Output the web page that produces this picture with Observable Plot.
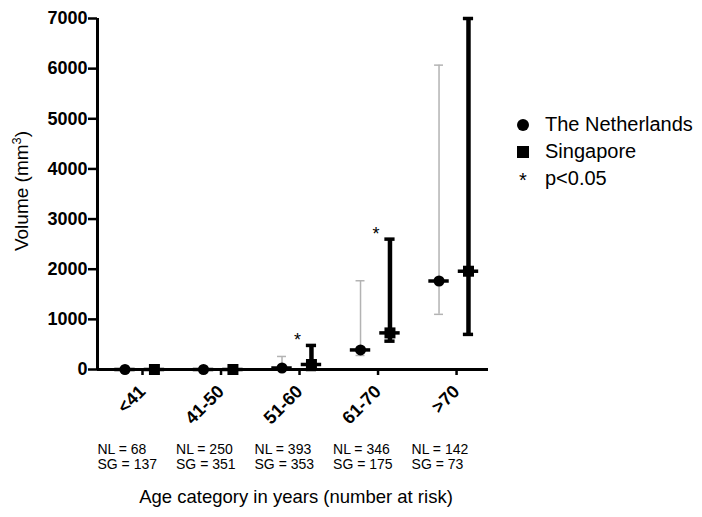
<!DOCTYPE html>
<html><head><meta charset="utf-8">
<script src="https://cdn.jsdelivr.net/npm/d3@7"></script>
<script src="https://cdn.jsdelivr.net/npm/@observablehq/plot@0.6"></script>
<style>
body{margin:0;background:#fff;}
#wrap{position:relative;width:702px;height:517px;font-family:Arial,"Liberation Sans",sans-serif;}
#legend{position:absolute;left:513px;top:111px;font-size:20px;color:#000;}
.item{display:flex;align-items:center;height:27px;white-space:nowrap;}
.item svg{width:20px;height:20px;margin-right:12px;flex:none;overflow:visible;}
#ytitle{position:absolute;left:22px;top:191px;transform:translate(-50%,-50%) rotate(-90deg);font-size:19px;white-space:nowrap;color:#000;}
#ytitle sup{font-size:0.68em;line-height:0;}
</style></head><body><div id="wrap"><div id="ytitle"></div><div id="legend"></div></div>
<script>
const categories = ["<41", "41-50", "51-60", "61-70", ">70"];
const nlMedian = [0, 0, 30, 390, 1765];
const nlLow = [0, 0, 0, 280, 1100];
const nlHigh = [0, 0, 260, 1770, 6070];
const sgMedian = [0, 0, 100, 730, 1960];
const sgLow = [0, 0, 0, 565, 700];
const sgHigh = [0, 0, 480, 2600, 7000];
const nlN = [68, 250, 393, 346, 142];
const sgN = [137, 351, 353, 175, 73];
const significant = [false, false, true, true, false];
const yTicks = [0, 1000, 2000, 3000, 4000, 5000, 6000, 7000];
const legendLabels = ["The Netherlands", "Singapore", "p<0.05"];
const xTitle = "Age category in years (number at risk)";
const yTitleText = "Volume (mm";
const yTitleSup = "3";

const rows = categories.map((c, i) => ({
  i, cat: c,
  nlMedian: nlMedian[i], nlLow: nlLow[i], nlHigh: nlHigh[i],
  sgMedian: sgMedian[i], sgLow: sgLow[i], sgHigh: sgHigh[i],
  nlN: nlN[i], sgN: sgN[i], sig: significant[i]
}));

const xDomain = [-0.535, 4.445];
const nlOff = -0.185, sgOff = 0.19;
const nlBars = rows.filter(d => d.nlHigh > d.nlLow);
const sgBars = rows.filter(d => d.sgHigh > d.sgLow);
const nlCaps = nlBars.flatMap(d => [{i: d.i, v: d.nlLow}, {i: d.i, v: d.nlHigh}]);
const sgCaps = sgBars.flatMap(d => [{i: d.i, v: d.sgLow}, {i: d.i, v: d.sgHigh}]);
const gray = "#b3b3b3";

const chart = Plot.plot({
  width: 702, height: 517,
  marginLeft: 97, marginRight: 214, marginTop: 18, marginBottom: 148,
  style: {fontFamily: "Arial, 'Liberation Sans', sans-serif", background: "#fff", color: "#000", overflow: "visible"},
  x: {type: "linear", domain: xDomain, label: null},
  y: {domain: [0, 7000], label: null},
  marks: [
    Plot.axisY(yTicks, {tickSize: 9, tickPadding: 1, strokeWidth: 2.5, fontSize: 18, fontWeight: "bold", tickFormat: d => String(d), label: null}),
    Plot.axisX([0, 1, 2, 3, 4], {tickFormat: i => categories[i], tickRotate: -45, tickSize: 6, tickPadding: 13, dx: 3, strokeWidth: 2.5, fontSize: 18, fontWeight: "bold", label: null}),
    // NL error bars
    Plot.ruleX(nlBars, {x: d => d.i + nlOff, y1: "nlLow", y2: "nlHigh", stroke: gray, strokeWidth: 1.5}),
    Plot.ruleY(nlCaps, {y: "v", x1: d => d.i + nlOff - 0.057, x2: d => d.i + nlOff + 0.057, stroke: gray, strokeWidth: 1.5}),
    // SG error bars
    Plot.ruleX(sgBars, {x: d => d.i + sgOff, y1: "sgLow", y2: "sgHigh", stroke: "#000", strokeWidth: 4.5}),
    Plot.ruleY(sgCaps, {y: "v", x1: d => d.i + sgOff - 0.065, x2: d => d.i + sgOff + 0.065, stroke: "#000", strokeWidth: 3.5}),
    // axis lines
    Plot.ruleY([0], {strokeWidth: 3}),
    Plot.ruleX([xDomain[0]], {strokeWidth: 3}),
    // median lines
    Plot.ruleY(rows, {y: "nlMedian", x1: d => d.i + nlOff - 0.13, x2: d => d.i + nlOff + 0.13, strokeWidth: 3.5}),
    Plot.ruleY(rows, {y: "sgMedian", x1: d => d.i + sgOff - 0.13, x2: d => d.i + sgOff + 0.13, strokeWidth: 3.5}),
    // markers
    Plot.dot(rows, {x: d => d.i + nlOff, y: "nlMedian", r: 5.5, symbol: "circle", fill: "#000", stroke: "none"}),
    Plot.dot(rows, {x: d => d.i + sgOff, y: "sgMedian", r: 6.2, symbol: "square", fill: "#000", stroke: "none"}),
    // significance
    Plot.text(rows.filter(d => d.sig), {x: "i", y: "sgHigh", text: () => "*", fontSize: 18, dx: 1, dy: -5}),
    // number at risk
    Plot.text(rows, {x: "i", text: d => `NL = ${d.nlN}\nSG = ${d.sgN}`, frameAnchor: "bottom", textAnchor: "start", lineAnchor: "top", lineHeight: 1.07, dx: -42, dy: 74, fontSize: 14}),
    // x title
    Plot.text([xTitle], {text: d => d, frameAnchor: "bottom", textAnchor: "middle", lineAnchor: "middle", dy: 128, dx: 3, fontSize: 18.5})
  ]
});
document.getElementById("wrap").prepend(chart);

// y title (with true superscript)
const yt = document.getElementById("ytitle");
yt.append(yTitleText);
const sup = document.createElement("sup");
sup.textContent = yTitleSup;
yt.append(sup, ")");

// legend
const symbols = [
  '<circle cx="10" cy="10" r="6" fill="#000"/>',
  '<rect x="4" y="4" width="12" height="12" fill="#000"/>',
  '<text x="10" y="18" text-anchor="middle" font-size="20" font-family="Arial, Liberation Sans, sans-serif">*</text>'
];
const legend = document.getElementById("legend");
legendLabels.forEach((lab, k) => {
  const div = document.createElement("div");
  div.className = "item";
  div.innerHTML = `<svg viewBox="0 0 20 20">${symbols[k]}</svg><span></span>`;
  div.querySelector("span").textContent = lab;
  legend.appendChild(div);
});
</script>
</body></html>
